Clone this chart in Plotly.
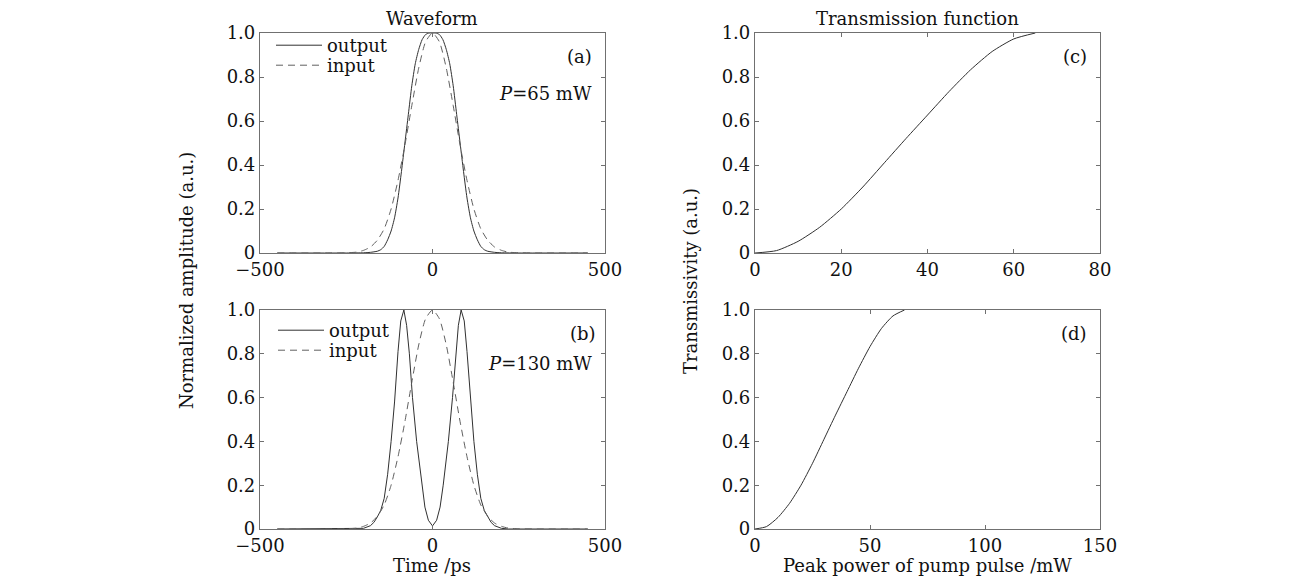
import plotly.graph_objects as go

# page body has an 8px margin, so the figure starts 8px in and is shifted back
OFF = 8
W, H = 1302 - OFF, 583 - OFF

# ---- data ----
t_in = [-450, -300, -250, -220, -200, -180, -160, -140, -120, -100, -80, -60, -40, -20, 0,
        20, 40, 60, 80, 100, 120, 140, 160, 180, 200, 220, 250, 300, 450]
amp_in = [0, 0, 0.001, 0.004, 0.012, 0.027, 0.058, 0.11, 0.20, 0.33, 0.49, 0.67, 0.84, 0.96, 1.0,
          0.96, 0.84, 0.67, 0.49, 0.33, 0.20, 0.11, 0.058, 0.027, 0.012, 0.004, 0.001, 0, 0]

t_a = [-450, -250, -200, -180, -160, -150, -140, -130, -120, -110, -100, -90, -80, -70, -60, -50,
       -40, -30, -20, -10, 0, 10, 20, 30, 40, 50, 60, 70, 80, 90, 100, 110, 120, 130, 140, 150,
       160, 180, 200, 250, 450]
amp_a = [0, 0, 0.001, 0.003, 0.008, 0.015, 0.03, 0.06, 0.10, 0.16, 0.25, 0.37, 0.50, 0.63, 0.76, 0.86,
         0.925, 0.97, 0.993, 1.0, 1.0, 1.0, 0.993, 0.97, 0.925, 0.86, 0.76, 0.63, 0.50, 0.37, 0.25, 0.16,
         0.10, 0.06, 0.03, 0.015, 0.008, 0.003, 0.001, 0, 0]

t_b = [-450, -250, -220, -200, -180, -170, -160, -150, -140, -130, -120, -110, -100, -92, -83, -75,
       -67, -58, -46, -38, -31, -22, -12, 0, 12, 22, 31, 38, 46, 58, 67, 75, 83, 92, 100, 110, 120,
       130, 140, 150, 160, 170, 180, 200, 220, 250, 450]
amp_b = [0, 0, 0, 0.003, 0.015, 0.03, 0.055, 0.085, 0.14, 0.25, 0.40, 0.58, 0.81, 0.95, 1.0, 0.93,
         0.80, 0.60, 0.40, 0.29, 0.20, 0.10, 0.04, 0.014, 0.04, 0.10, 0.20, 0.29, 0.40, 0.60, 0.80, 0.93,
         1.0, 0.95, 0.81, 0.58, 0.40, 0.25, 0.14, 0.085, 0.055, 0.03, 0.015, 0.003, 0, 0, 0]

power = [0, 5, 10, 15, 20, 25, 30, 35, 40, 45, 50, 55, 60, 65]
trans = [0, 0.011, 0.053, 0.117, 0.20, 0.30, 0.41, 0.52, 0.627, 0.734, 0.833, 0.916, 0.973, 1.0]

y_ticks = [0, 0.2, 0.4, 0.6, 0.8, 1.0]
y_ticktext = ["0", "0.2", "0.4", "0.6", "0.8", "1.0"]

FONT = "DejaVu Serif"
FS = 18
TXT = "#111111"
LINE = "#303030"
DASHC = "#606060"
AXC = "#707070"


def px(x):
    return (x - OFF) / W


def py(y):
    return 1 - (y - OFF) / H


fig = go.Figure()

solid = dict(color=LINE, width=1, shape="spline", smoothing=0.6)
dashed = dict(color=DASHC, width=1, dash="7px,5px", shape="spline", smoothing=0.6)

# (a)
fig.add_trace(go.Scatter(x=t_a, y=amp_a, mode="lines", name="output", legend="legend",
                         line=solid, xaxis="x", yaxis="y"))
fig.add_trace(go.Scatter(x=t_in, y=amp_in, mode="lines", name="input", legend="legend2",
                         line=dashed, xaxis="x", yaxis="y"))
# (b)
fig.add_trace(go.Scatter(x=t_b, y=amp_b, mode="lines", name="output", legend="legend3",
                         line=dict(color=LINE, width=1), xaxis="x2", yaxis="y2"))
fig.add_trace(go.Scatter(x=t_in, y=amp_in, mode="lines", name="input", legend="legend4",
                         line=dashed, xaxis="x2", yaxis="y2"))
# (c) and (d)
fig.add_trace(go.Scatter(x=power, y=trans, mode="lines", showlegend=False,
                         line=solid, xaxis="x3", yaxis="y3"))
fig.add_trace(go.Scatter(x=power, y=trans, mode="lines", showlegend=False,
                         line=solid, xaxis="x4", yaxis="y4"))

ax = dict(showline=True, mirror="ticks", linecolor=AXC, linewidth=1.2, ticks="inside",
          ticklen=4, tickcolor=AXC, showgrid=False, zeroline=False, automargin=False,
          tickfont=dict(family=FONT, size=FS, color=TXT))
yax = dict(ax, range=[0, 1], tickvals=y_ticks, ticktext=y_ticktext)

left = [px(260), px(605)]
right = [px(755), px(1100)]
top = [py(253), py(33)]
bot = [py(529), py(310)]

ann = []


def note(text, x, y, xanchor="center", angle=0):
    ann.append(dict(text=text, x=px(x), y=py(y), xref="paper", yref="paper", showarrow=False,
                    xanchor=xanchor, yanchor="middle", textangle=angle,
                    font=dict(family=FONT, size=FS, color=TXT)))


note("Waveform", 432, 18)
note("Transmission function", 917, 18)
note("Normalized amplitude (a.u.)", 186, 281, angle=-90)
note("Transmissivity (a.u.)", 690, 281, angle=-90)
note("Time /ps", 432, 565)
note("Peak power of pump pulse /mW", 927, 565)
note("(a)", 594, 56, xanchor="right")
note("<i>P</i>=65 mW", 594, 93, xanchor="right")
note("(b)", 598, 333, xanchor="right")
note("<i>P</i>=130 mW", 594, 363, xanchor="right")
note("(c)", 1089, 56, xanchor="right")
note("(d)", 1089, 333, xanchor="right")

leg = dict(bgcolor="rgba(0,0,0,0)", borderwidth=0, itemwidth=46, tracegroupgap=0,
           font=dict(family=FONT, size=FS, color=TXT), xanchor="left", yanchor="top")

fig.update_layout(
    width=W, height=H,
    margin=dict(l=0, r=0, t=0, b=0),
    paper_bgcolor="white", plot_bgcolor="white",
    xaxis=dict(ax, domain=left, range=[-500, 500], tickvals=[-500, 0, 500], anchor="y"),
    yaxis=dict(yax, domain=top, anchor="x"),
    xaxis2=dict(ax, domain=left, range=[-500, 500], tickvals=[-500, 0, 500], anchor="y2"),
    yaxis2=dict(yax, domain=bot, anchor="x2"),
    xaxis3=dict(ax, domain=right, range=[0, 80], tickvals=[0, 20, 40, 60, 80], anchor="y3"),
    yaxis3=dict(yax, domain=top, anchor="x3"),
    xaxis4=dict(ax, domain=right, range=[0, 150], tickvals=[0, 50, 100, 150], anchor="y4"),
    yaxis4=dict(yax, domain=bot, anchor="x4"),
    legend=dict(leg, x=px(271), y=py(27)),
    legend2=dict(leg, x=px(271), y=py(47)),
    legend3=dict(leg, x=px(273), y=py(312)),
    legend4=dict(leg, x=px(273), y=py(332)),
    annotations=ann,
)

fig.write_html("out.html")
